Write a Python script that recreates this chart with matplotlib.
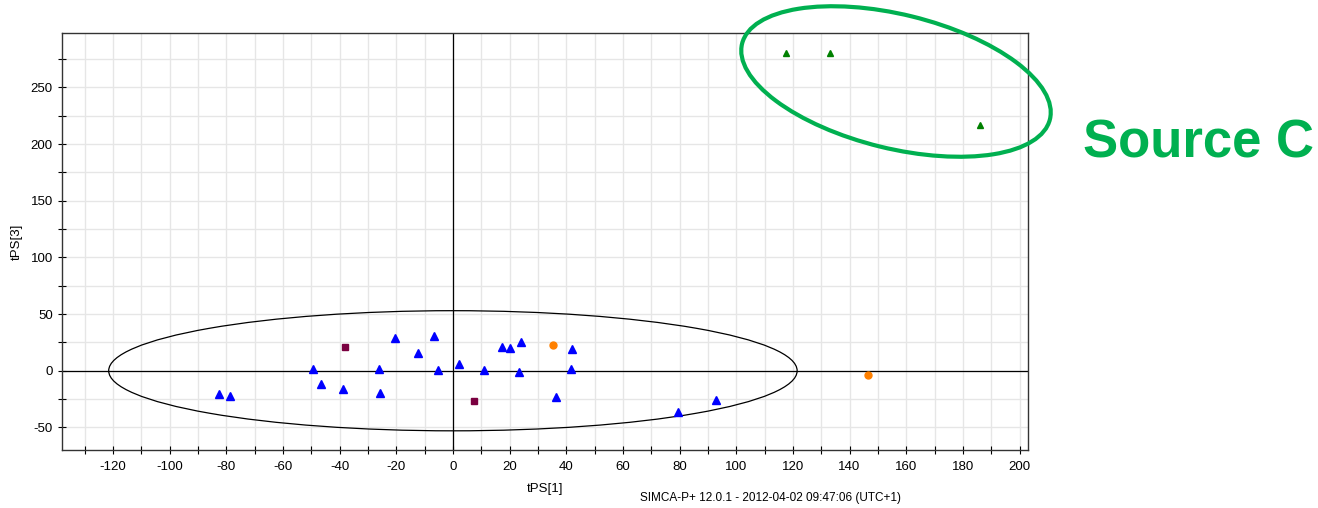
import numpy as np
import matplotlib
matplotlib.use("Agg")
import matplotlib.pyplot as plt
from matplotlib.patches import Ellipse
from matplotlib.ticker import MultipleLocator

plt.rcParams['font.family'] = ['Liberation Sans', 'DejaVu Sans']
plt.rcParams['axes.unicode_minus'] = False

# score values (tPS[1], tPS[3])
blue_x = [-82.4, -78.7, -49.5, -46.7, -38.7, -26.2, -25.7, -20.5, -12.5, -6.7,
          -5.2, 2.0, 10.9, 17.2, 20.1, 23.4, 23.9, 36.3, 41.6, 42.1, 79.6, 93.0]
blue_y = [-20.5, -22.3, 1.8, -11.4, -15.8, 1.8, -19.6, 29.0, 15.5, 31.0,
          0.9, 5.8, 0.3, 20.8, 20.0, -1.5, 25.5, -23.2, 1.8, 19.1, -36.1, -25.8]
square_x = [-38.0, 7.5]
square_y = [21.4, -27.0]
orange_x = [35.2, 146.4]
orange_y = [22.6, -3.5]
green_x = [117.5, 133.0, 186.2]
green_y = [280.0, 280.0, 216.5]

# Hotelling T2 ellipse semi-axes
t2_a = 121.5
t2_b = 53.0

fig = plt.figure(figsize=(13.18, 5.08), dpi=100)
ax = fig.add_axes([0.047, 0.114, 0.733, 0.821])

ax.set_xlim(-138, 203)
ax.set_ylim(-70, 298)

# grid
ax.xaxis.set_major_locator(MultipleLocator(20))
ax.xaxis.set_minor_locator(MultipleLocator(10))
ax.yaxis.set_major_locator(MultipleLocator(50))
ax.yaxis.set_minor_locator(MultipleLocator(25))
ax.grid(True, which='both', color='#e6e6e6', linewidth=1.0, zorder=0)
ax.set_axisbelow(True)

ax.axhline(0, color='black', linewidth=0.9, zorder=1)
ax.axvline(0, color='black', linewidth=0.9, zorder=1)

ell = Ellipse((0, 0), 2 * t2_a, 2 * t2_b, fill=False, edgecolor='black',
              linewidth=0.9, zorder=2)
ax.add_patch(ell)

ax.plot(blue_x, blue_y, linestyle='none', marker='^', markersize=5.5,
        color='#0000ff', zorder=3)
ax.plot(square_x, square_y, linestyle='none', marker='s', markersize=5,
        color='#7a0040', zorder=3)
ax.plot(orange_x, orange_y, linestyle='none', marker='o', markersize=5,
        color='#ff8000', zorder=3)
ax.plot(green_x, green_y, linestyle='none', marker='^', markersize=4.5,
        color='#008000', zorder=3)

for s in ax.spines.values():
    s.set_color('#333333')
    s.set_linewidth(1.0)

ax.tick_params(which='both', direction='inout', length=6, width=0.8,
               labelsize=9.5, colors='black')
ax.tick_params(axis='x', pad=5)
ax.set_xticks(np.arange(-120, 201, 20))

ax.set_xlabel('tPS[1]', fontsize=9.5, labelpad=7)
ax.set_ylabel('tPS[3]', fontsize=9.5, labelpad=6)

fig.text(0.5845, 0.0197, 'SIMCA-P+ 12.0.1 - 2012-04-02 09:47:06 (UTC+1)',
         fontsize=8.5, ha='center', va='center')

# annotation overlay in pixel coordinates
ov = fig.add_axes([0, 0, 1, 1], facecolor='none')
ov.set_xlim(0, 1318)
ov.set_ylim(508, 0)
ov.axis('off')
ov.add_patch(Ellipse((896, 81.5), 317, 134, angle=13.8, fill=False,
                     edgecolor='#00b050', linewidth=3.0))
ov.text(1083, 158, 'Source C', color='#00b050', fontsize=38,
        fontweight='bold', ha='left', va='baseline')

fig.savefig('out.png', dpi=100)
